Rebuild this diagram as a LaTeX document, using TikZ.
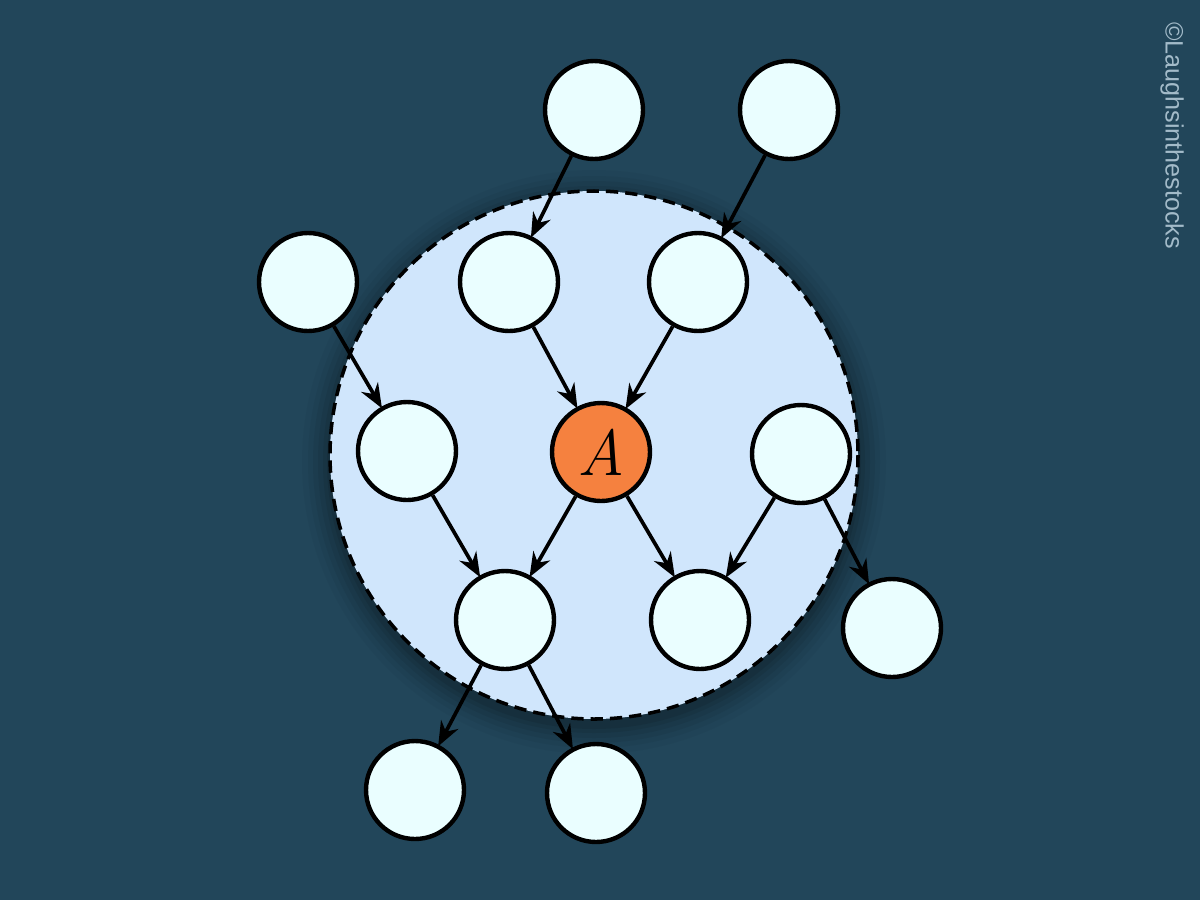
\documentclass[tikz,border=0pt]{standalone}
\usepackage{fontspec}
\newfontfamily\wmfont{Liberation Sans}
\usetikzlibrary{arrows.meta}
\definecolor{bgc}{HTML}{22465A}
\definecolor{regionc}{HTML}{D0E6FC}
\definecolor{nodec}{HTML}{EAFEFF}
\definecolor{orangec}{HTML}{F5813F}
\definecolor{wmc}{HTML}{A3BBC9}
\tikzset{
  px/.style={x=0.02cm,y=-0.02cm},
  vnode/.style={circle,draw=black,line width=2.5pt,fill=nodec,minimum size=1.96cm,inner sep=0pt},
  anode/.style={vnode,fill=orangec},
  edge/.style={line width=2.1pt,-{Stealth[length=14pt,width=11pt]},shorten >=-1pt},
  region/.style={draw=black,line width=2pt,dash pattern=on 7pt off 4pt,fill=regionc},
}
\begin{document}
\begin{tikzpicture}[px]
\fill[bgc] (0,0) rectangle (1200,900);
\useasboundingbox (0,0) rectangle (1200,900);
% glow / shadow of the region
\foreach \r/\o in {292/0.03,286/0.04,281/0.05,276/0.06,271/0.07,267/0.08}{
  \fill[black,opacity=\o] (594,462) circle[radius=\r];
}
\draw[region] (594,455) coordinate (rc) circle[radius=264];
% nodes
\node[vnode] (T1) at (594,110) {};
\node[vnode] (T2) at (789,110) {};
\node[vnode] (L1) at (308,282) {};
\node[vnode] (U1) at (509,282) {};
\node[vnode] (U2) at (698,282) {};
\node[vnode] (M1) at (407,451) {};
\node[anode] (A) at (601,452) {\fontsize{37}{42}\selectfont\itshape A};
\node[vnode] (R1) at (801,454) {};
\node[vnode] (B1) at (505,620) {};
\node[vnode] (B2) at (700,620) {};
\node[vnode] (R2) at (892,628) {};
\node[vnode] (D1) at (415,790) {};
\node[vnode] (D2) at (596,793) {};
% edges
\draw[edge] (T1) -- (U1);
\draw[edge] (T2) -- (U2);
\draw[edge] (L1) -- (M1);
\draw[edge] (U1) -- (A);
\draw[edge] (U2) -- (A);
\draw[edge] (M1) -- (B1);
\draw[edge] (A) -- (B1);
\draw[edge] (A) -- (B2);
\draw[edge] (R1) -- (B2);
\draw[edge] (R1) -- (R2);
\draw[edge] (B1) -- (D1);
\draw[edge] (B1) -- (D2);
% watermark
\node[rotate=-90,anchor=west,text=wmc,inner sep=0pt] (wm) at (1172,22)
  {\wmfont\fontsize{14.3}{16}\selectfont ©Laughsinthestocks};
\end{tikzpicture}
\end{document}
